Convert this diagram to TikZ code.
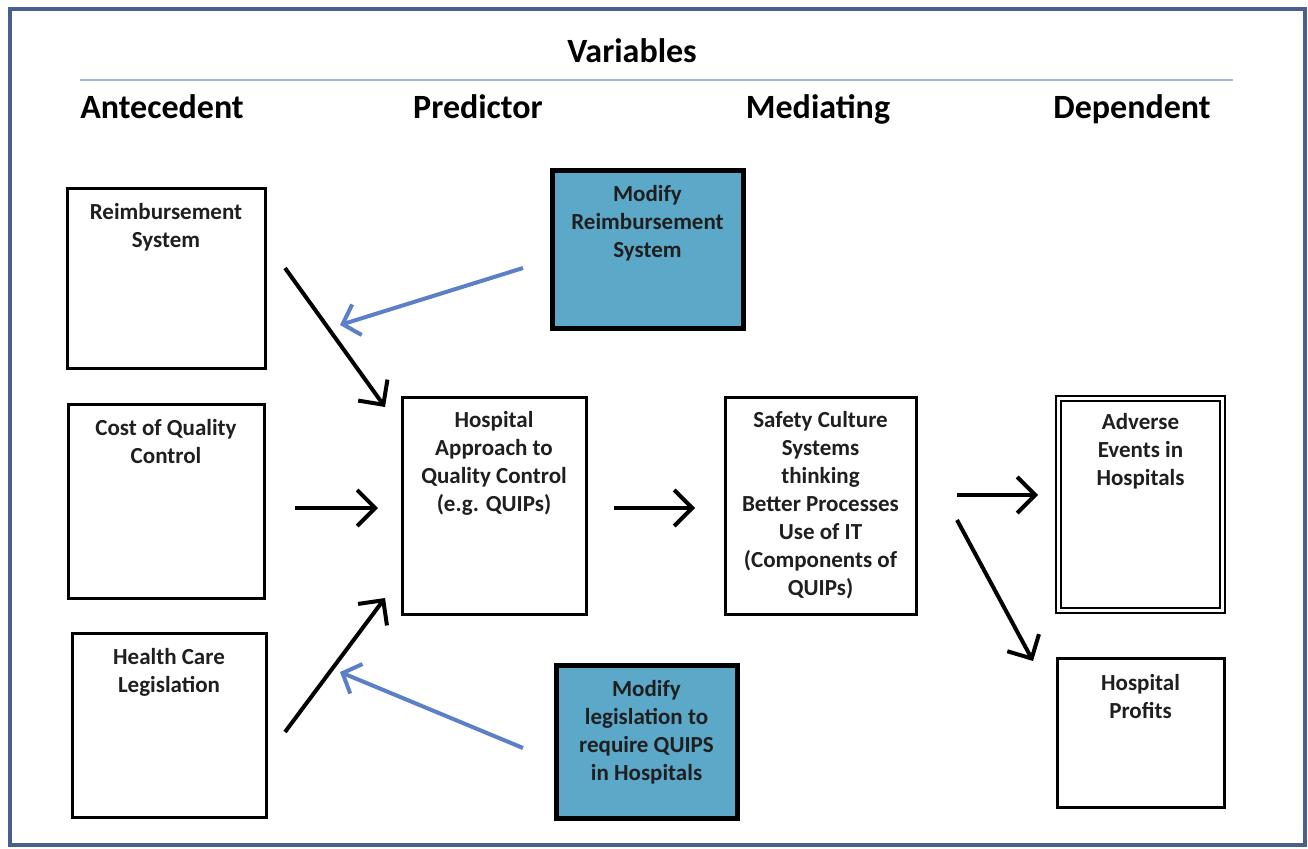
\documentclass[tikz,border=0pt]{standalone}
\usepackage{fontspec}
\setmainfont{Carlito}
\usetikzlibrary{arrows.meta,shadows}
\definecolor{frameblue}{HTML}{4A5F8F}
\definecolor{ruleblue}{HTML}{A8B6DE}
\definecolor{fillblue}{HTML}{5CA8C8}
\definecolor{arrblue}{HTML}{5B80C8}
\tikzset{
  box/.style={draw=black, line width=3pt, fill=white, inner sep=0pt, rectangle},
  bluebox/.style={draw=black, line width=5pt, fill=fillblue, inner sep=0pt, rectangle,
    drop shadow={shadow xshift=2pt, shadow yshift=-3pt, opacity=0.45, fill=black}},
  dblbox/.style={draw=black, line width=1.6pt, double=white, double distance=3.2pt, inner sep=0pt, rectangle, fill=white},
  txt/.style={font=\bfseries\fontsize{23}{28}\selectfont, align=center, anchor=north, inner sep=0pt, text=black!88},
  head/.style={font=\bfseries\fontsize{34}{38}\selectfont, inner sep=0pt, text=black, anchor=base},
  arr/.style={line width=4pt, black, -{Straight Barb[length=18pt,width=36pt]}},
  barr/.style={line width=4pt, arrblue, -{Straight Barb[length=15pt,width=32pt]}},
}
\begin{document}
\begin{tikzpicture}[x=1pt,y=-1pt]
\useasboundingbox (0,0) rectangle (1308,848);
\fill[white] (0,0) rectangle (1308,848);
\draw[frameblue, line width=4pt] (10,9) rectangle (1305,845);

% title and headers
\node[head] (title) at (632,63) {Variables};
\draw[ruleblue, line width=2pt] (80,80) -- (1233,80);
\node[head] (hA) at (162,119) {Antecedent};
\node[head] (hP) at (478,119) {Predictor};
\node[head] (hM) at (818,119) {Mediating};
\node[head] (hD) at (1132,119) {Dependent};

% boxes
\node[box, minimum width=198, minimum height=180] (rs) at (166,278) {};
\node[txt] (rsT) at (166,203) {Reimbursement\\System};
\node[box, minimum width=196, minimum height=194] (cq) at (166,501) {};
\node[txt] (cqT) at (166,419) {Cost of Quality\\Control};
\node[box, minimum width=194, minimum height=184] (hc) at (169,725) {};
\node[txt] (hcT) at (169,648) {Health Care\\Legislation};

\node[bluebox, minimum width=191, minimum height=158] (mr) at (647.5,249) {};
\node[txt] (mrT) at (647.5,185) {Modify\\Reimbursement\\System};
\node[bluebox, minimum width=181, minimum height=153] (ml) at (646.5,741.5) {};
\node[txt] (mlT) at (646.5,680) {Modify\\legislation to\\require QUIPS\\in Hospitals};

\node[box, minimum width=184, minimum height=217] (ha) at (494,505.5) {};
\node[txt] (haT) at (494,411) {Hospital\\Approach to\\Quality Control\\(e.g. QUIPs)};
\node[box, minimum width=191, minimum height=217] (sc) at (820.5,505.5) {};
\node[txt] (scT) at (820.5,411) {Safety Culture\\Systems\\thinking\\Better Processes\\Use of IT\\(Components of\\QUIPs)};

\node[dblbox, minimum width=164, minimum height=212] (ae) at (1140.5,504.5) {};
\node[txt] (aeT) at (1140.5,413) {Adverse\\Events in\\Hospitals};
\node[box, minimum width=167, minimum height=149] (hp) at (1140.5,732.5) {};
\node[txt] (hpT) at (1140.5,674) {Hospital\\Profits};

% arrow end points
\coordinate (a1s) at (285,268); \coordinate (a1e) at (385,407);
\coordinate (a2s) at (295,508); \coordinate (a2e) at (378,508);
\coordinate (a3s) at (285,732); \coordinate (a3e) at (385,598);
\coordinate (a4s) at (614,508); \coordinate (a4e) at (695,508);
\coordinate (a5s) at (957,495); \coordinate (a5e) at (1038,495);
\coordinate (a6s) at (957,520); \coordinate (a6e) at (1033,661);
\coordinate (b1s) at (523,268); \coordinate (b1e) at (340,325);
\coordinate (b2s) at (523,748); \coordinate (b2e) at (340,672);

\draw[arr] (a1s) -- (a1e);
\draw[arr] (a2s) -- (a2e);
\draw[arr] (a3s) -- (a3e);
\draw[arr] (a4s) -- (a4e);
\draw[arr] (a5s) -- (a5e);
\draw[arr] (a6s) -- (a6e);
\draw[barr] (b1s) -- (b1e);
\draw[barr] (b2s) -- (b2e);
\end{tikzpicture}
\end{document}
